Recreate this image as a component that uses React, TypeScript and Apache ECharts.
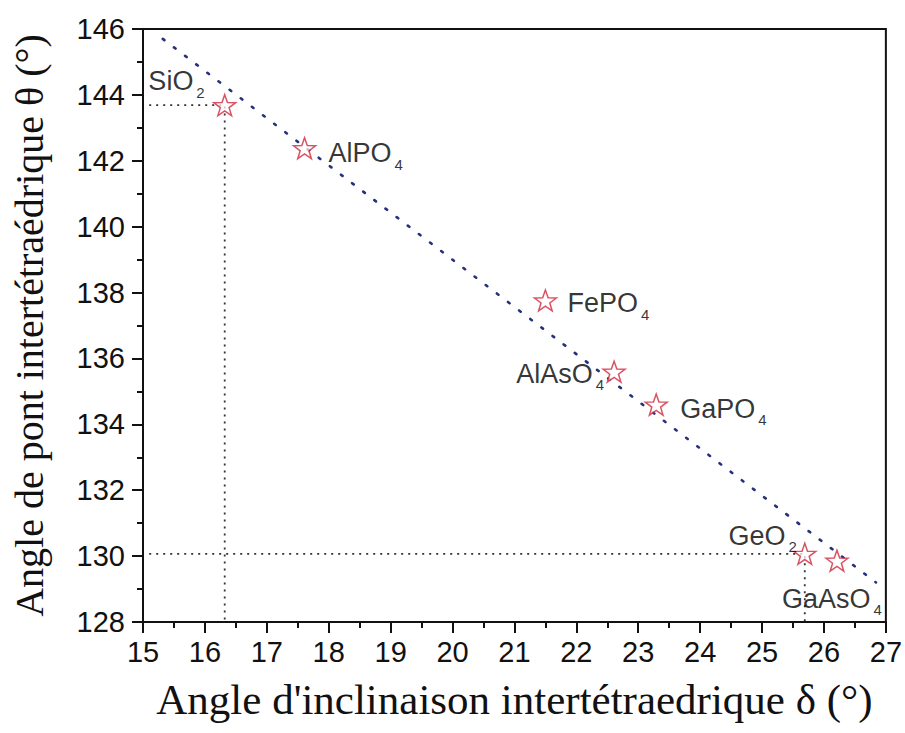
import React, { useEffect, useRef } from "react";
import * as echarts from "echarts";

// Data
const names = ["SiO", "AlPO", "FePO", "AlAsO", "GaPO", "GeO", "GaAsO"];
const subs = ["2", "4", "4", "4", "4", "2", "4"];
const deltaValues = [16.32, 17.61, 21.5, 22.61, 23.29, 25.69, 26.21];
const thetaValues = [143.69, 142.38, 137.76, 135.6, 134.6, 130.07, 129.86];

// dotted fit line endpoints
const fitX = [15.32, 26.84];
const fitY = [145.7, 129.2];

// guide lines are drawn for these compounds (indices in the arrays above)
const guideIdx = [0, 5];
const guideStartX = 15.1;

const xTicks = { min: 15, max: 27, interval: 1 };
const yTicks = { min: 128, max: 146, interval: 2 };

// label placement (style, not data)
const labelAlign = ["right", "left", "left", "right", "left", "right", "center"];
const labelOffset = [
  [-20, -24],
  [24, 5],
  [22, 3],
  [-10, 2],
  [24, 4],
  [-8, -18],
  [-5, 38],
];

const STAR =
  "path://M100,0 L123.5,67.6 L195.1,69.1 L138,112.4 L158.8,180.9 L100,140 L41.2,180.9 L62,112.4 L4.9,69.1 L76.5,67.6 Z";

export default function App() {
  const ref = useRef<HTMLDivElement>(null);

  useEffect(() => {
    if (!ref.current) return;
    const chart = echarts.init(ref.current, null, { renderer: "svg" });

    const sans = "Liberation Sans, Arial, sans-serif";
    const serif = "Liberation Serif, Times New Roman, serif";

    const starData = names.map((n, i) => ({
      value: [deltaValues[i], thetaValues[i]],
      label: {
        show: true,
        position: "inside",
        align: labelAlign[i],
        verticalAlign: "middle",
        offset: labelOffset[i],
        color: "#000",
        textBorderWidth: 0,
        formatter: `{m|${n}}{s|${subs[i]}}`,
        rich: {
          m: { fontSize: 27, fontFamily: sans, color: "#000", textBorderWidth: 0 },
          s: {
            fontSize: 15,
            fontFamily: sans,
            color: "#000",
            textBorderWidth: 0,
            padding: [22, 0, 0, 3],
          },
        },
      },
    }));

    const guideSeries: any[] = [];
    guideIdx.forEach((gi) => {
      guideSeries.push({
        type: "line",
        data: [
          [guideStartX, thetaValues[gi]],
          [deltaValues[gi], thetaValues[gi]],
          [deltaValues[gi], yTicks.min],
        ],
        symbol: "none",
        lineStyle: { color: "#333", width: 1.8, type: [2, 5] },
        z: 1,
        silent: true,
      });
    });

    const axisCommon = {
      type: "value",
      nameLocation: "middle",
      axisLine: { show: true, lineStyle: { color: "#111", width: 2 } },
      axisTick: { show: true, inside: false, length: 11, lineStyle: { color: "#111", width: 2 } },
      minorTick: { show: true, splitNumber: 2, length: 6, lineStyle: { color: "#111", width: 2 } },
      splitLine: { show: false },
    };

    chart.setOption({
      animation: false,
      backgroundColor: "#fff",
      grid: {
        left: 143,
        right: 19,
        top: 29,
        bottom: 111,
        show: true,
        borderColor: "#111",
        borderWidth: 2,
      },
      xAxis: {
        ...axisCommon,
        min: xTicks.min,
        max: xTicks.max,
        interval: xTicks.interval,
        axisLabel: { fontFamily: sans, fontSize: 29, color: "#111", margin: 15 },
        name: "Angle d'inclinaison intertétraedrique δ (°)",
        nameGap: 56,
        nameTextStyle: { fontFamily: serif, fontSize: 43, color: "#111" },
      },
      yAxis: {
        ...axisCommon,
        min: yTicks.min,
        max: yTicks.max,
        interval: yTicks.interval,
        axisLabel: { fontFamily: sans, fontSize: 29, color: "#111", margin: 18 },
        name: "Angle de pont intertétraédrique θ (°)",
        nameGap: 94,
        nameTextStyle: { fontFamily: serif, fontSize: 40, color: "#111" },
      },
      series: [
        {
          type: "line",
          data: fitX.map((x, i) => [x, fitY[i]]),
          symbol: "none",
          lineStyle: { color: "#27307a", width: 2.6, type: [2, 12], cap: "round" },
          z: 1,
          silent: true,
        },
        ...guideSeries,
        {
          type: "scatter",
          data: starData,
          symbol: STAR,
          symbolSize: 22,
          symbolKeepAspect: true,
          itemStyle: { color: "rgba(255,255,255,0.9)", borderColor: "#d0283c", borderWidth: 1.5 },
          z: 3,
        },
      ],
    });

    return () => chart.dispose();
  }, []);

  return (
    <div
      ref={ref}
      style={{ position: "fixed", left: 0, top: 0, width: 905, height: 733, background: "#fff" }}
    />
  );
}
